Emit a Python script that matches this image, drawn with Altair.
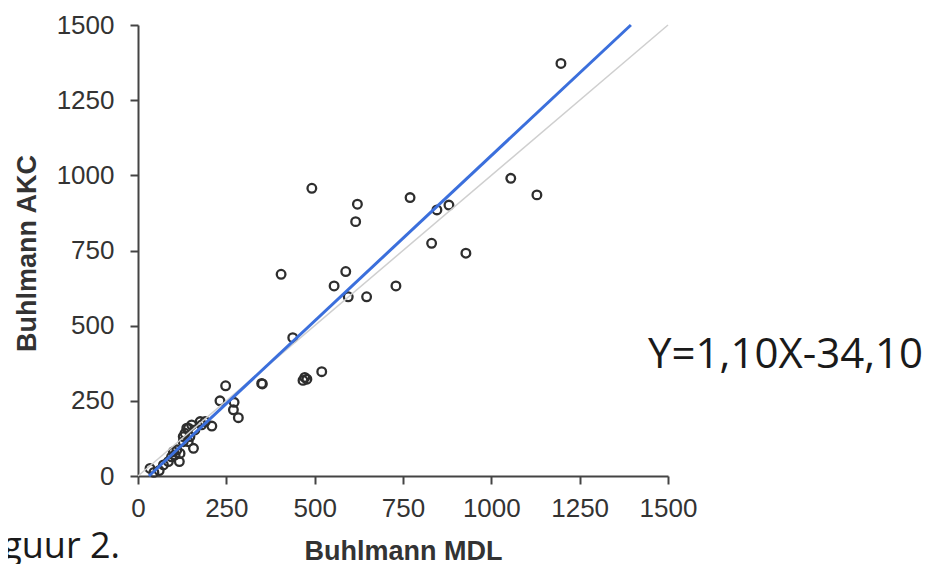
import altair as alt
import pandas as pd

# Scatter points (Buhlmann MDL vs Buhlmann AKC)
mdl = [1197, 492, 621, 616, 770, 846, 880, 1055, 1129, 831, 928, 405, 588, 555,
       595, 647, 730, 438, 520, 350, 467, 472, 478,
       34, 60, 45, 72, 86, 95, 105, 117, 119, 100, 110, 128, 142, 133, 138, 147,
       157, 152, 161, 176, 180, 190, 209, 128, 143,
       232, 248, 272, 270, 284, 352]
akc = [1372, 957, 904, 846, 926, 885, 901, 990, 935, 774, 741, 671, 680, 632,
       596, 596, 632, 460, 347, 308, 318, 328, 322,
       25, 18, 12, 37, 48, 64, 70, 48, 75, 81, 87, 114, 114, 142, 159, 131,
       92, 170, 153, 181, 170, 181, 166, 131, 159,
       250, 300, 245, 220, 194, 306]

# Identity line and fitted line (Y = 1,10X - 34,10) endpoints
ident_x = [0, 1500]
ident_y = [0, 1500]
fit_x = [31, 1395]
fit_y = [0, 1500]

ticks = [0, 250, 500, 750, 1000, 1250, 1500]
equation = "Y=1,10X-34,10"
caption = "Figuur 2."

pts = pd.DataFrame({"MDL": mdl, "AKC": akc})
ident = pd.DataFrame({"MDL": ident_x, "AKC": ident_y})
fit = pd.DataFrame({"MDL": fit_x, "AKC": fit_y})

xs = alt.Scale(domain=[0, 1500], nice=False)
ys = alt.Scale(domain=[0, 1500], nice=False)

x_axis = alt.Axis(values=ticks, format="d", labelOverlap=False, labelFlush=False,
                  title="Buhlmann MDL", grid=False,
                  labelPadding=11, titleX=265, titleY=83,
                  titleBaseline="alphabetic")
y_axis = alt.Axis(values=ticks, format="d", labelOverlap=False, labelFlush=False,
                  title="Buhlmann AKC", grid=False,
                  labelPadding=16, titleX=-103, titleY=228,
                  titleBaseline="alphabetic")

points = alt.Chart(pts).mark_point(
    shape="circle", filled=False, size=75, strokeWidth=2.3,
    color="#2e2e2e", opacity=1
).encode(
    x=alt.X("MDL:Q", scale=xs, axis=x_axis),
    y=alt.Y("AKC:Q", scale=ys, axis=y_axis),
)

ident_line = alt.Chart(ident).mark_line(color="#cfcfcf", strokeWidth=1.5).encode(
    x=alt.X("MDL:Q", scale=xs), y=alt.Y("AKC:Q", scale=ys)
)
fit_line = alt.Chart(fit).mark_line(color="#3b6fdc", strokeWidth=3).encode(
    x=alt.X("MDL:Q", scale=xs), y=alt.Y("AKC:Q", scale=ys)
)

eq_text = alt.Chart(pd.DataFrame({"t": [equation]})).mark_text(
    font="Open Sans", fontSize=42, color="#1a1a1a", align="left",
    baseline="alphabetic"
).encode(x=alt.value(510), y=alt.value(343), text="t:N")

cap_text = alt.Chart(pd.DataFrame({"t": [caption]})).mark_text(
    font="Open Sans", fontSize=36, color="#1a1a1a", align="right",
    baseline="alphabetic"
).encode(x=alt.value(-18), y=alt.value(533), text="t:N")

chart = alt.layer(points, ident_line, fit_line, eq_text, cap_text).properties(
    width=530, height=451,
    autosize=alt.AutoSizeParams(type="none"),
    padding={"left": 130, "top": 17, "right": 254, "bottom": 88},
).configure_view(stroke=None).configure_axis(
    labelFont="Liberation Sans", labelFontSize=26, labelColor="#333333",
    titleFont="Liberation Sans", titleFontSize=27, titleFontWeight="bold",
    titleColor="#333333", domainColor="#444444", tickColor="#444444",
    domainWidth=2, tickWidth=2, tickSize=8
)

chart.save("out.html", embed_options={"renderer": "svg", "actions": False})
